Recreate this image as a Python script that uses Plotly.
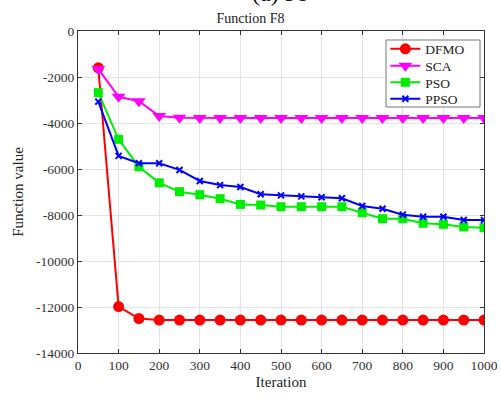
import plotly.graph_objects as go

iterations = [50, 100, 150, 200, 250, 300, 350, 400, 450, 500, 550, 600, 650, 700, 750, 800, 850, 900, 950, 1000]
dfmo = [-1600, -11980, -12500, -12570, -12570, -12570, -12570, -12570, -12570, -12570,
        -12570, -12570, -12570, -12570, -12570, -12570, -12570, -12570, -12570, -12570]
sca = [-1650, -2860, -3050, -3700, -3770, -3780, -3780, -3780, -3780, -3780,
       -3780, -3780, -3780, -3780, -3780, -3780, -3780, -3780, -3780, -3780]
pso = [-2680, -4710, -5900, -6600, -6985, -7115, -7290, -7540, -7565, -7640,
       -7640, -7640, -7640, -7900, -8160, -8160, -8360, -8405, -8520, -8550]
ppso = [-3070, -5430, -5750, -5750, -6040, -6520, -6700, -6780, -7100, -7145,
        -7190, -7230, -7275, -7610, -7725, -7985, -8075, -8075, -8220, -8220]

x_ticks = list(range(0, 1001, 100))
y_ticks = list(range(-14000, 1, 2000))
y_tick_labels = [str(v) for v in y_ticks]

font = "Liberation Serif, Times New Roman, serif"

fig = go.Figure()
fig.add_trace(go.Scatter(x=iterations, y=dfmo, name="DFMO", mode="lines+markers", legend="legend",
                         line=dict(color="#ff0000", width=2),
                         marker=dict(symbol="circle", size=11, color="#ff0000")))
fig.add_trace(go.Scatter(x=iterations, y=sca, name="SCA", mode="lines+markers", legend="legend2",
                         line=dict(color="#ff00ff", width=2),
                         marker=dict(symbol="triangle-down", size=12, color="#ff00ff")))
fig.add_trace(go.Scatter(x=iterations, y=pso, name="PSO", mode="lines+markers", legend="legend3",
                         line=dict(color="#00ee00", width=2),
                         marker=dict(symbol="square", size=9, color="#00ee00")))
fig.add_trace(go.Scatter(x=iterations, y=ppso, name="PPSO", mode="lines+markers", legend="legend4",
                         line=dict(color="#0000ff", width=2),
                         marker=dict(symbol="x-thin", size=6, color="#0000ff",
                                     line=dict(color="#0000ff", width=2))))

axis_common = dict(showgrid=True, gridcolor="#e3e3e3", gridwidth=1,
                   showline=True, linecolor="#333333", linewidth=1, mirror="ticks",
                   ticks="inside", ticklen=4, tickcolor="#333333", automargin=False,
                   zeroline=False, tickfont=dict(family=font, size=13.5, color="#333333"))

plot_top, plot_bottom = 31, 353
def py(pix):
    return (plot_bottom - pix) / (plot_bottom - plot_top)

legend_centers = [49, 66, 82.5, 99]
legend_style = dict(x=0.757, xanchor="left", yanchor="middle", bgcolor="rgba(0,0,0,0)",
                    borderwidth=0, font=dict(family=font, size=13.5, color="#222222"),
                    itemsizing="trace")

fig.update_layout(
    width=501, height=399,
    margin=dict(l=78, r=17, t=31, b=46),
    paper_bgcolor="white", plot_bgcolor="white",
    font=dict(family=font, size=13, color="#222222"),
    title=dict(text="Function F8", x=0.5, xanchor="center", y=1 - 18 / 399, yanchor="middle",
               font=dict(family=font, size=14, color="#222222")),
    xaxis=dict(range=[0, 1000], tickvals=x_ticks,
               title=dict(text="Iteration", font=dict(family=font, size=15), standoff=4),
               **axis_common),
    yaxis=dict(range=[-14000, 0], tickvals=y_ticks, ticktext=y_tick_labels,
               title=dict(text="Function value", font=dict(family=font, size=15), standoff=8),
               **axis_common),
    legend=dict(y=py(legend_centers[0]), **legend_style),
    legend2=dict(y=py(legend_centers[1]), **legend_style),
    legend3=dict(y=py(legend_centers[2]), **legend_style),
    legend4=dict(y=py(legend_centers[3]), **legend_style),
    showlegend=True,
)

# legend frame
fig.add_shape(type="rect", xref="paper", yref="paper",
              x0=(386 - 78) / 406, x1=(480 - 78) / 406, y0=py(107), y1=py(40),
              fillcolor="white", line=dict(color="#777777", width=1), layer="above")

fig.add_annotation(text="(a) F9", xref="paper", yref="paper", x=0.5, y=1 + 38 / 322,
                   xanchor="center", yanchor="middle", showarrow=False,
                   font=dict(family=font, size=24, color="#111111"))

fig.write_html("out.html")
